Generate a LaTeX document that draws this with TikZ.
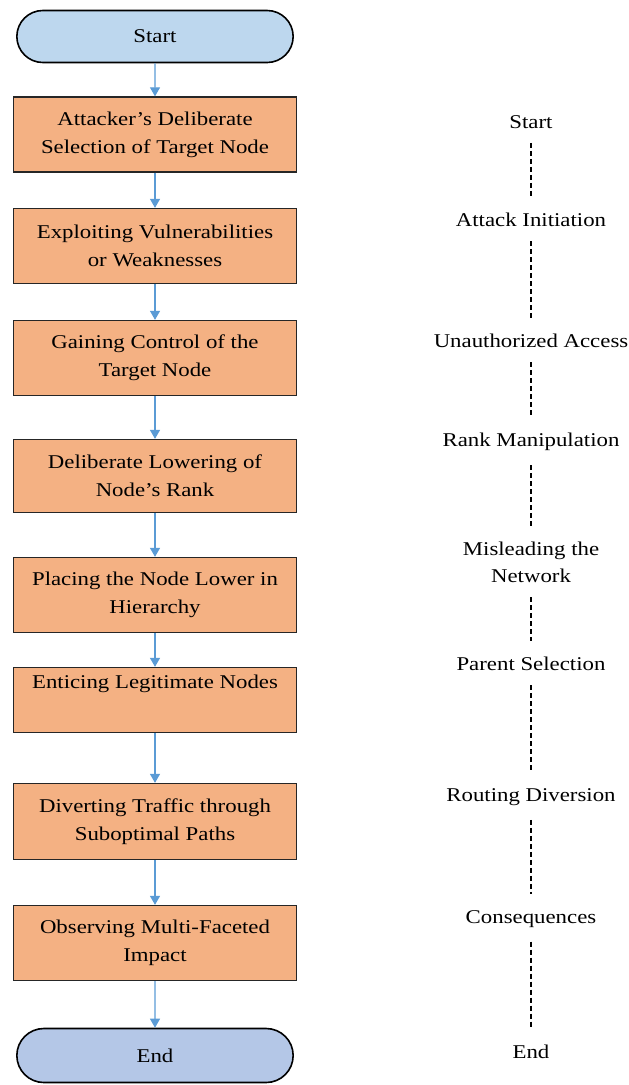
\documentclass[tikz,border=0pt]{standalone}
\usepackage{fontspec}
\setmainfont{Liberation Serif}[FakeStretch=1.17]
\usetikzlibrary{shapes.misc,arrows.meta}
\definecolor{startblue}{RGB}{189,215,238}
\definecolor{stopblue}{RGB}{180,199,231}
\definecolor{boxorange}{RGB}{244,177,131}
\definecolor{arrowblue}{RGB}{91,155,213}
\tikzset{
  term/.style={rounded rectangle, draw=black, line width=1.6pt, minimum width=283pt, minimum height=52pt, font=\fontsize{19.5}{28}\selectfont},
  stepbox/.style={rectangle, draw=black!85, line width=1.3pt, fill=boxorange, minimum width=283pt, minimum height=75pt, align=center, font=\fontsize{19.5}{28}\selectfont},
  flow/.style={draw=arrowblue, line width=1.2pt, -{Triangle[width=10pt,length=9pt]}},
  phase/.style={align=center, inner sep=2pt, font=\fontsize{19.5}{27}\selectfont},
  phaseline/.style={dash pattern=on 5pt off 3pt, line width=1.1pt, shorten <=12pt, shorten >=14pt}
}
\begin{document}
\begin{tikzpicture}[x=1pt,y=-1pt]
  \useasboundingbox (0,0) rectangle (629,1085);
  % flow chart
  \node[term, fill=startblue] (start) at (155,36.5) {Start};
  \node[stepbox] (s1) at (155,134.5) {Attacker's Deliberate\\Selection of Target Node};
  \node[stepbox] (s2) at (155,246) {Exploiting Vulnerabilities\\or Weaknesses};
  \node[stepbox] (s3) at (155,358) {Gaining Control of the\\Target Node};
  \node[stepbox, minimum height=73pt] (s4) at (155,476) {Deliberate Lowering of\\Node's Rank};
  \node[stepbox] (s5) at (155,595) {Placing the Node Lower in\\Hierarchy};
  \node[stepbox, minimum height=65pt] (s6) at (155,700) {Enticing Legitimate Nodes\\\strut};
  \node[stepbox, minimum height=76pt] (s7) at (155,821.5) {Diverting Traffic through\\Suboptimal Paths};
  \node[stepbox] (s8) at (155,943) {Observing Multi-Faceted\\Impact};
  \node[term, fill=stopblue, minimum height=54pt] (stop) at (155,1055.5) {End};
  \foreach \a/\b in {start/s1,s1/s2,s2/s3,s3/s4,s4/s5,s5/s6,s6/s7,s7/s8,s8/stop}
    \draw[flow] (\a) -- (\b);
  % phases
  \foreach \n/\y/\t in {ph1/122/Start, ph2/220/Attack Initiation, ph3/341/Unauthorized Access,
      ph4/442/Rank Manipulation, ph5/562.5/{Misleading the\\Network}, ph6/664/Parent Selection,
      ph7/797/Routing Diversion, ph8/919/Consequences, ph9/1052/End}
    \node[phase] (\n) at (531,\y) {\t};
  \foreach \a/\b in {ph1/ph2,ph2/ph3,ph3/ph4,ph4/ph5,ph5/ph6,ph6/ph7,ph7/ph8,ph8/ph9}
    \draw[phaseline] (\a) -- (\b);
\end{tikzpicture}
\end{document}
